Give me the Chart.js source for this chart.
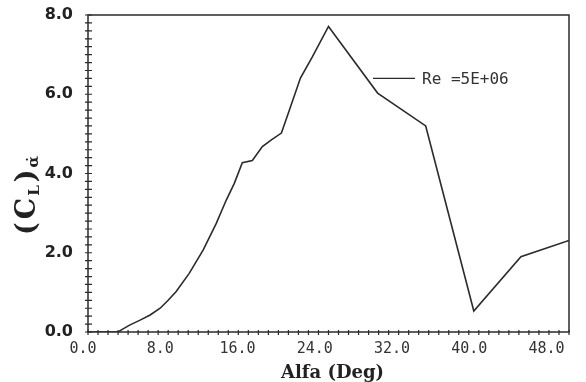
<!DOCTYPE html>
<html><head><meta charset="utf-8">
<script src="https://cdn.jsdelivr.net/npm/chart.js@4/dist/chart.umd.min.js"></script>
<style>html,body{margin:0;padding:0;background:#fff}#wrap{width:586px;height:382px;position:relative}</style>
</head><body><div id="wrap"><canvas id="c" width="586" height="382"></canvas></div>
<script>
// ---- data ----
const alfa    = [0, 3.0, 3.5, 4.2, 5.2, 6.2, 7.2, 8.0, 8.8, 10.1, 11.5, 12.8, 13.8, 14.6, 15.4, 16.4, 17.4, 18.3, 19.3, 20.1, 21.2, 22.4, 24.0, 28.9, 33.7, 38.5, 43.2, 48.0];
const clAlpha = [0, 0.0, 0.08, 0.18, 0.30, 0.43, 0.60, 0.80, 1.02, 1.48, 2.07, 2.74, 3.33, 3.75, 4.27, 4.33, 4.68, 4.85, 5.02, 5.60, 6.41, 6.95, 7.71, 6.03, 5.20, 0.53, 1.90, 2.31];
const seriesLabel = 'Re =5E+06';
const xTickLabels = [0, 8, 16, 24, 32, 40, 48];
const yTickLabels = [0, 2, 4, 6, 8];
const xTitle = 'Alfa (Deg)';
const yTitleParts = ['(', 'C', 'L', ')', 'α\u0307'];

const INK = '#2b2b2b';

function noPad(s) { s.paddingTop = 0; s.paddingBottom = 0; s.paddingLeft = 0; s.paddingRight = 0; }

const framePlugin = {
  id: 'frame',
  beforeDraw(chart) {
    const ctx = chart.ctx;
    ctx.save(); ctx.fillStyle = '#fff'; ctx.fillRect(0, 0, chart.width, chart.height); ctx.restore();
  },
  afterDraw(chart) {
    const ctx = chart.ctx, a = chart.chartArea;
    const xs = chart.scales.x, ys = chart.scales.y;
    ctx.save();
    ctx.strokeStyle = INK;
    ctx.lineWidth = 1.5;
    ctx.strokeRect(a.left, a.top, a.right - a.left, a.bottom - a.top);
    // minor/major tick marks crossing the axes
    ctx.lineWidth = 1.2;
    ctx.beginPath();
    xs.ticks.forEach(t => {
      const px = xs.getPixelForValue(t.value);
      ctx.moveTo(px, a.bottom - 2); ctx.lineTo(px, a.bottom + 3);
    });
    ys.ticks.forEach(t => {
      const py = ys.getPixelForValue(t.value);
      ctx.moveTo(a.left - 3, py); ctx.lineTo(a.left + 4, py);
    });
    ctx.stroke();
    // legend
    const ds = chart.data.datasets[0];
    const lx = a.left + (a.right - a.left) * 0.5925;
    const ly = a.top + (a.bottom - a.top) * 0.2;
    ctx.strokeStyle = ds.borderColor; ctx.lineWidth = 1.3;
    ctx.beginPath(); ctx.moveTo(lx, ly); ctx.lineTo(lx + 42, ly); ctx.stroke();
    ctx.fillStyle = '#333';
    ctx.font = '16px "DejaVu Sans Mono"';
    ctx.textBaseline = 'middle'; ctx.textAlign = 'left';
    ctx.fillText(ds.label, lx + 49, ly + 1);
    // x title
    ctx.fillStyle = '#222';
    ctx.font = 'bold 18px "DejaVu Serif"';
    ctx.textAlign = 'center'; ctx.textBaseline = 'alphabetic';
    ctx.fillText(xTitle, (a.left + a.right) / 2 + 4, 378);
    // y title (rotated, with subscripts)
    ctx.save();
    ctx.translate(35, 235);
    ctx.rotate(-Math.PI / 2);
    ctx.textAlign = 'left';
    let cx = 0;
    const big = 'bold 27px "DejaVu Serif"', small = 'bold 15px "DejaVu Serif"';
    [[yTitleParts[0], big, 0, 3], [yTitleParts[1], big, 0, 2], [yTitleParts[2], small, 4, 3],
     [yTitleParts[3], big, 0, 2], [yTitleParts[4], small, 3, 0]].forEach(([s, f, dy, gap]) => {
      ctx.font = f; ctx.fillText(s, cx, dy); cx += ctx.measureText(s).width + gap;
    });
    ctx.restore();
    ctx.restore();
  }
};

new Chart(document.getElementById('c'), {
  type: 'line',
  data: {
    datasets: [{
      label: seriesLabel,
      data: alfa.map((a, i) => ({ x: a, y: clAlpha[i] })),
      borderColor: INK,
      borderWidth: 1.6,
      pointRadius: 0,
      tension: 0,
      fill: false,
      xAxisID: 'x', yAxisID: 'y'
    }]
  },
  options: {
    responsive: false,
    animation: false,
    devicePixelRatio: 1,
    layout: { padding: { top: 15, right: 17, left: 0, bottom: 0 } },
    plugins: { legend: { display: false }, tooltip: { enabled: false } },
    scales: {
      x: {
        type: 'linear', position: 'bottom', min: 0, max: 48, weight: 0,
        ticks: { display: false, stepSize: 1 },
        grid: { display: false, drawTicks: false },
        border: { display: false },
        afterFit(s) { s.height = 0; noPad(s); }
      },
      xl: {
        type: 'linear', position: 'bottom', min: 0.518, max: 50.33, weight: 1,
        afterBuildTicks(s) { s.ticks = xTickLabels.map(v => ({ value: v })); },
        ticks: {
          autoSkip: false, maxRotation: 0, padding: 8,
          color: '#333',
          font: { family: '"DejaVu Sans Mono"', size: 15 },
          callback: v => Number(v).toFixed(1)
        },
        grid: { display: false, drawTicks: false },
        border: { display: false },
        afterFit(s) { s.height = 50; noPad(s); }
      },
      y: {
        type: 'linear', min: 0, max: 8,
        ticks: {
          stepSize: 0.2, autoSkip: false, padding: 15,
          color: '#222',
          font: { family: '"DejaVu Sans"', size: 16, weight: 'bold' },
          callback: v => yTickLabels.some(t => Math.abs(t - v) < 1e-6) ? Number(v).toFixed(1) : ''
        },
        grid: { display: false, drawTicks: false },
        border: { display: false },
        afterFit(s) { s.width = 88; noPad(s); }
      }
    }
  },
  plugins: [framePlugin]
});
</script>
</body></html>
